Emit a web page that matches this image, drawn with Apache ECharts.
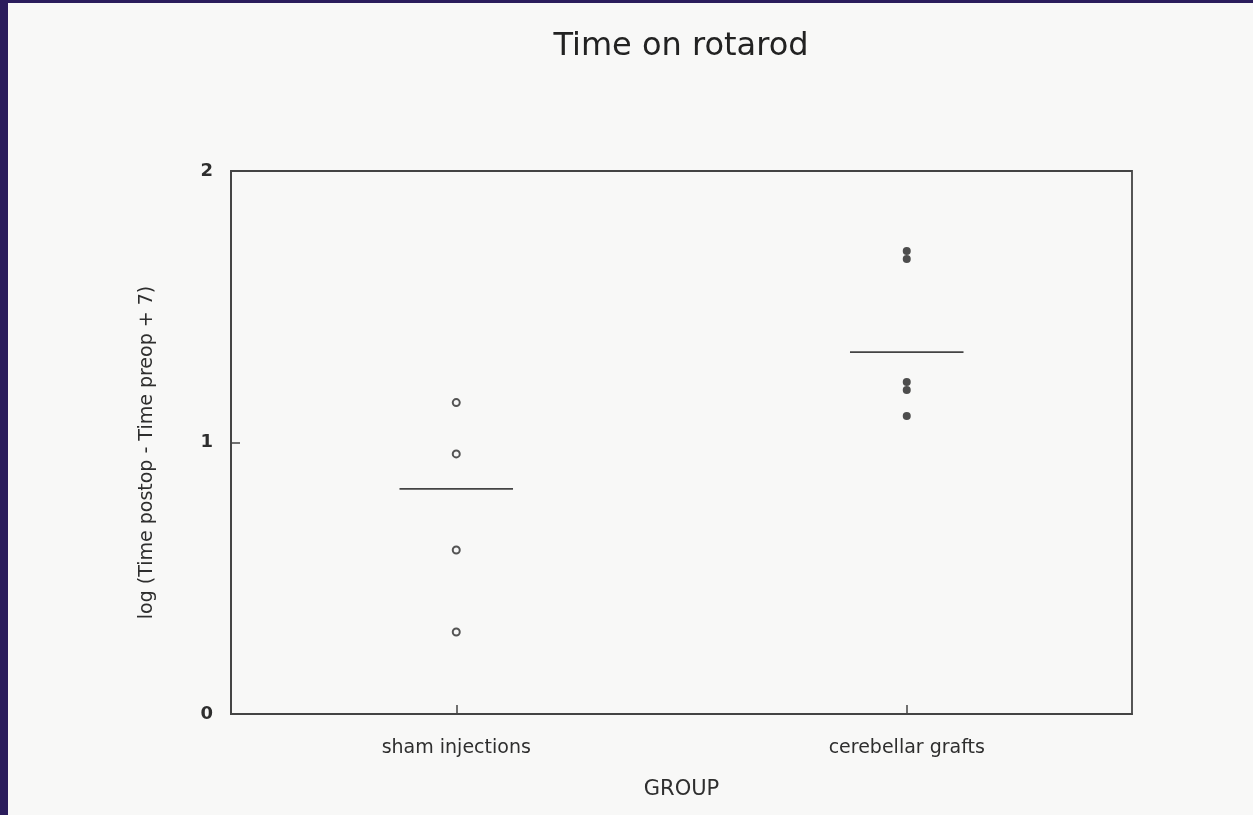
<!DOCTYPE html>
<html>
<head>
<meta charset="utf-8">
<script src="https://cdn.jsdelivr.net/npm/echarts@6/dist/echarts.min.js"></script>
<style>
  html, body { margin: 0; padding: 0; width: 1253px; height: 815px; overflow: hidden; background: #2b1d5c; }
  #paper { position: absolute; left: 8px; top: 3px; width: 1245px; height: 812px; background: #f8f8f7; }
</style>
</head>
<body>
<div id="paper"></div>
<script>
// --- donnees ---
const groups = ["sham injections", "cerebellar grafts"];
const shamValues = [1.147, 0.958, 0.604, 0.302];
const graftValues = [1.705, 1.676, 1.223, 1.193, 1.098];
const groupMeans = [0.829, 1.333];
const yTicks = [0, 1, 2];

const INK = "#2e2e2e";
const FONT = "DejaVu Sans, Verdana, sans-serif";

const chart = echarts.init(document.getElementById("paper"));

chart.setOption({
  animation: false,
  backgroundColor: "transparent",
  title: {
    text: "Time on rotarod",
    left: 668,
    top: 23,
    textAlign: "center",
    textStyle: { fontFamily: FONT, fontSize: 32, fontWeight: "normal", color: "#222" }
  },
  grid: {
    left: 223, top: 168, right: 121, bottom: 101,
    show: true, borderColor: "#444", borderWidth: 1.8, backgroundColor: "transparent"
  },
  xAxis: {
    type: "category",
    data: groups,
    boundaryGap: true,
    name: "GROUP",
    nameLocation: "middle",
    nameGap: 65,
    nameTextStyle: { fontFamily: FONT, fontSize: 21, color: INK },
    axisLine: { lineStyle: { color: "#444", width: 1.8 } },
    axisTick: { show: true, interval: 0, inside: true, alignWithLabel: true, length: 9, lineStyle: { color: "#444", width: 1.5 } },
    axisLabel: { interval: 0, fontFamily: FONT, fontSize: 19, color: INK, margin: 25 },
    splitLine: { show: false }
  },
  yAxis: {
    type: "value",
    min: yTicks[0],
    max: yTicks[yTicks.length - 1],
    interval: 1,
    name: "log (Time postop - Time preop + 7)",
    nameLocation: "middle",
    nameGap: 74,
    nameTextStyle: { fontFamily: FONT, fontSize: 19, color: INK, padding: [0, 20, 0, 0] },
    axisLine: { show: true, lineStyle: { color: "#444", width: 1.8 } },
    axisTick: { show: true, inside: true, length: 9, lineStyle: { color: "#444", width: 1.5 } },
    axisLabel: { fontFamily: FONT, fontSize: 18, fontWeight: "bold", color: INK, margin: 18 },
    splitLine: { show: false }
  },
  series: [
    {
      type: "scatter",
      data: shamValues.map((v) => [groups[0], v]),
      symbol: "circle",
      symbolSize: 7,
      itemStyle: { color: "#f8f8f7", borderColor: "#2a2a2a", borderWidth: 2 }
    },
    {
      type: "scatter",
      data: graftValues.map((v) => [groups[1], v]),
      symbol: "circle",
      symbolSize: 8,
      itemStyle: { color: "#222" }
    },
    {
      // trait horizontal de la moyenne par groupe
      type: "custom",
      data: groupMeans.map((v, i) => [i, v]),
      renderItem: (params, api) => {
        const p = api.coord([api.value(0), api.value(1)]);
        const half = api.size([1, 0])[0] * 0.126;
        return {
          type: "line",
          shape: { x1: p[0] - half, y1: p[1], x2: p[0] + half, y2: p[1] },
          style: { stroke: "#444", lineWidth: 1.8 }
        };
      }
    }
  ]
});
</script>
</body>
</html>
